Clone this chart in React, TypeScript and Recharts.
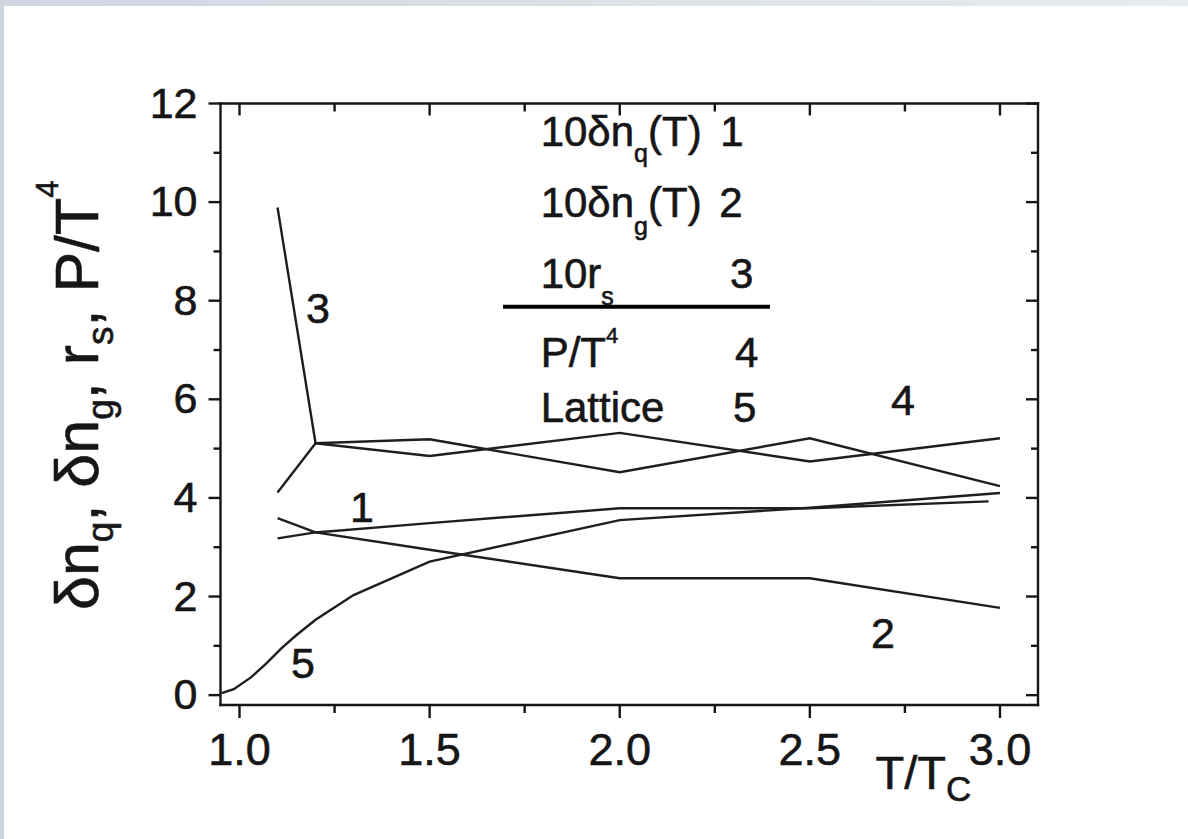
import React from 'react';
import { LineChart, Line, XAxis, YAxis, ReferenceDot, ReferenceLine } from 'recharts';

// ---------- data ----------
const xTicks = [1.0, 1.25, 1.5, 1.75, 2.0, 2.25, 2.5, 2.75, 3.0];
const yTicks = [0, 1, 2, 3, 4, 5, 6, 7, 8, 9, 10, 11, 12];

// curve 1 : 10 δn_q(T)
const dnqT = [1.1, 1.2, 1.5, 2.0, 2.5, 2.97];
const dnqV = [3.18, 3.3, 3.49, 3.79, 3.79, 3.93];
// curve 2 : 10 δn_g(T)
const dngT = [1.1, 1.2, 1.5, 2.0, 2.5, 3.0];
const dngV = [3.59, 3.3, 2.95, 2.37, 2.37, 1.77];
// curve 3 : 10 r_s
const rsT = [1.1, 1.2, 1.5, 2.0, 2.5, 3.0];
const rsV = [9.89, 5.11, 5.19, 4.52, 5.21, 4.24];
// curve 4 : P/T^4
const pT = [1.1, 1.2, 1.5, 2.0, 2.5, 3.0];
const pV = [4.11, 5.11, 4.85, 5.32, 4.74, 5.21];
// curve 5 : Lattice
const latT = [0.953, 0.985, 1.03, 1.07, 1.11, 1.15, 1.2, 1.3, 1.5, 2.0, 2.5, 3.0];
const latV = [0.04, 0.12, 0.36, 0.64, 0.95, 1.22, 1.53, 2.03, 2.71, 3.55, 3.8, 4.1];

// curve number annotations (data coordinates)
const curveNums = ['3', '1', '5', '4', '2'];
const curveNumT = [1.206, 1.322, 1.167, 2.745, 2.692];
const curveNumV = [7.55, 3.51, 0.345, 5.685, 0.954];

// in-plot legend rows
const legendNums = ['1', '2', '3', '4', '5'];
const legendTextT = 1.792;
const legendRowV = [11.13, 9.69, 8.26, 6.66, 5.54];
const legendNumT = [2.264, 2.262, 2.29, 2.303, 2.298];
const legendRuleT = [1.693, 2.395];
const legendRuleV = 7.88;

const pts = (t: number[], v: number[]) => t.map((x, i) => ({ t: x, v: v[i] }));

const FONT = '"Liberation Sans", Arial, Helvetica, sans-serif';
const INK = '#161616';
const LINE = '#1e1e1e';
const TXT = { fontFamily: FONT, fill: INK, stroke: INK, strokeWidth: 0.6 };

const isMajorX = (v: number) => Math.abs(v * 2 - Math.round(v * 2)) < 1e-6;
const isMajorY = (v: number) => Math.round(v) % 2 === 0;

const BottomTick = (p: any) => {
  const { x, y, payload } = p;
  const v = payload.value;
  const major = isMajorX(v);
  return (
    <g>
      <line x1={x} y1={y} x2={x} y2={y + (major ? 13 : 8)} stroke={INK} strokeWidth={2.4} />
      {major && (
        <text x={x} y={y + 60} textAnchor="middle" fontSize={45} {...TXT}>
          {v.toFixed(1)}
        </text>
      )}
    </g>
  );
};

const TopTick = (p: any) => {
  const { x, y, payload } = p;
  const major = isMajorX(payload.value);
  return <line x1={x} y1={y} x2={x} y2={y + (major ? 12 : 8)} stroke={INK} strokeWidth={2.4} />;
};

const LeftTick = (p: any) => {
  const { x, y, payload } = p;
  const v = payload.value;
  const major = isMajorY(v);
  return (
    <g>
      <line x1={x - (major ? 12 : 7)} y1={y} x2={x} y2={y} stroke={INK} strokeWidth={2.4} />
      {major && (
        <text x={x - 23} y={y + 14} textAnchor="end" fontSize={43} {...TXT}>
          {String(v)}
        </text>
      )}
    </g>
  );
};

const RightTick = (p: any) => {
  const { x, y, payload } = p;
  const major = isMajorY(payload.value);
  return <line x1={x - (major ? 12 : 7)} y1={y} x2={x} y2={y} stroke={INK} strokeWidth={2.4} />;
};

const YTitle = (p: any) => {
  const vb = p.viewBox;
  const cx = vb.x - 2.5;
  const cy = vb.y + vb.height / 2 - 9;
  return (
    <text
      x={cx}
      y={cy}
      transform={`rotate(-90 ${cx} ${cy})`}
      textAnchor="middle"
      fontSize={61}
      {...TXT}
    >
      δn<tspan dy={15} fontSize={37}>q</tspan>
      <tspan dy={-15}>, δn</tspan>
      <tspan dy={15} fontSize={37}>g</tspan>
      <tspan dy={-15}>, r</tspan>
      <tspan dy={15} fontSize={37}>s</tspan>
      <tspan dy={-15}>, P/T</tspan>
      <tspan dy={-40} fontSize={31}>4</tspan>
    </text>
  );
};

const XTitle = (p: any) => {
  const vb = p.viewBox;
  const x0 = vb.x + 655;
  const y0 = vb.y + 84;
  return (
    <text x={x0} y={y0} fontSize={47} {...TXT}>
      T/T<tspan dy={12} fontSize={35}>C</tspan>
    </text>
  );
};

const txt = (content: React.ReactNode, anchor: 'start' | 'middle' = 'start', size = 41) =>
  (p: any) => (
    <text x={p.cx} y={p.cy} textAnchor={anchor} fontSize={size} {...TXT}>
      {content}
    </text>
  );

const legendTexts: React.ReactNode[] = [
  <>10δn<tspan dy={16} fontSize={25}>q</tspan><tspan dy={-16}>(T)</tspan></>,
  <>10δn<tspan dy={18} fontSize={25}>g</tspan><tspan dy={-18}>(T)</tspan></>,
  <>10r<tspan dy={17} fontSize={25}>s</tspan></>,
  <>P/T<tspan dy={-24} fontSize={22}>4</tspan></>,
  <>Lattice</>,
];

export default function App() {
  return (
    <div
      style={{
        position: 'absolute',
        left: 0,
        top: 0,
        width: 1188,
        height: 839,
        overflow: 'hidden',
        background: 'linear-gradient(90deg, #d0d6e0, #e8ebf0)',
      }}
    >
      <div style={{ position: 'absolute', left: 4, top: 6, width: 1184, height: 833, background: '#ffffff' }} />
      <div style={{ position: 'absolute', left: 0, top: 0 }}>
        <LineChart width={1188} height={839} margin={{ top: 93.5, right: 140, bottom: 34, left: 100.5 }}>
          <XAxis
            type="number"
            dataKey="t"
            domain={[0.95, 3.1]}
            allowDataOverflow
            ticks={xTicks}
            interval={0}
            tickSize={0}
            tickMargin={0}
            tickLine={false}
            tick={BottomTick}
            height={100}
            axisLine={{ stroke: INK, strokeWidth: 2.4, strokeLinecap: 'square' }}
            label={{ content: XTitle }}
          />
          <XAxis
            xAxisId="top"
            orientation="top"
            type="number"
            dataKey="t"
            domain={[0.95, 3.1]}
            allowDataOverflow
            ticks={xTicks}
            interval={0}
            tickSize={0}
            tickMargin={0}
            tickLine={false}
            tick={TopTick}
            height={10}
            axisLine={{ stroke: INK, strokeWidth: 2.4, strokeLinecap: 'square' }}
          />
          <YAxis
            type="number"
            domain={[-0.2, 12]}
            allowDataOverflow
            ticks={yTicks}
            interval={0}
            tickSize={0}
            tickMargin={0}
            tickLine={false}
            tick={LeftTick}
            width={120}
            axisLine={{ stroke: INK, strokeWidth: 2.4, strokeLinecap: 'square' }}
            label={{ content: YTitle }}
          />
          <YAxis
            yAxisId="right"
            orientation="right"
            type="number"
            domain={[-0.2, 12]}
            allowDataOverflow
            ticks={yTicks}
            interval={0}
            tickSize={0}
            tickMargin={0}
            tickLine={false}
            tick={RightTick}
            width={10}
            axisLine={{ stroke: INK, strokeWidth: 2.4, strokeLinecap: 'square' }}
          />

          <Line data={pts(dnqT, dnqV)} dataKey="v" stroke={LINE} strokeWidth={2.4} dot={false} isAnimationActive={false} type="linear" />
          <Line data={pts(dngT, dngV)} dataKey="v" stroke={LINE} strokeWidth={2.4} dot={false} isAnimationActive={false} type="linear" />
          <Line data={pts(rsT, rsV)} dataKey="v" stroke={LINE} strokeWidth={2.4} dot={false} isAnimationActive={false} type="linear" />
          <Line data={pts(pT, pV)} dataKey="v" stroke={LINE} strokeWidth={2.4} dot={false} isAnimationActive={false} type="linear" />
          <Line data={pts(latT, latV)} dataKey="v" stroke={LINE} strokeWidth={2.4} dot={false} isAnimationActive={false} type="linear" />

          {curveNums.map((n, i) => (
            <ReferenceDot key={'c' + i} x={curveNumT[i]} y={curveNumV[i]} r={0} shape={txt(n, 'middle', 43)} />
          ))}

          {legendTexts.map((c, i) => (
            <ReferenceDot key={'lt' + i} x={legendTextT} y={legendRowV[i]} r={0} shape={txt(c, 'start', 42)} />
          ))}
          {legendNums.map((n, i) => (
            <ReferenceDot key={'ln' + i} x={legendNumT[i]} y={legendRowV[i]} r={0} shape={txt(n, 'start', 42)} />
          ))}
          <ReferenceLine
            segment={[
              { x: legendRuleT[0], y: legendRuleV },
              { x: legendRuleT[1], y: legendRuleV },
            ]}
            stroke="#000"
            strokeWidth={4}
          />
        </LineChart>
      </div>
    </div>
  );
}
